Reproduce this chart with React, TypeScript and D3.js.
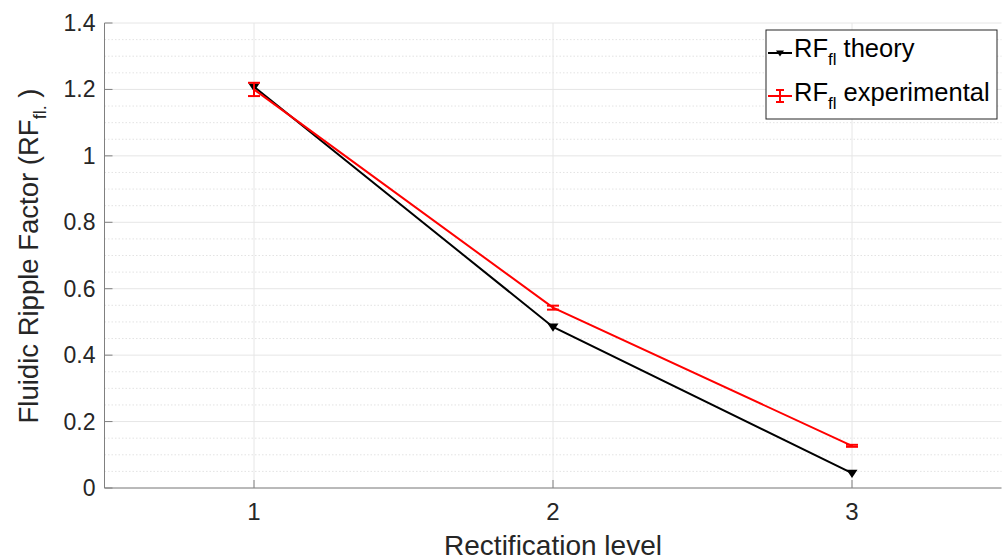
import React from "react";
import * as d3 from "d3";

const levels = [1, 2, 3];
const theory = [1.208, 0.485, 0.045];
const experimental = [1.2, 0.543, 0.127];
const expError = [0.02, 0.006, 0.003];
const yTicks = [0, 0.2, 0.4, 0.6, 0.8, 1, 1.2, 1.4];
const yTickLabels = ["0", "0.2", "0.4", "0.6", "0.8", "1", "1.2", "1.4"];
const xTicks = [1, 2, 3];

const W = 1005;
const H = 558;
const M = { left: 104.5, right: 1001.5, top: 23, bottom: 488 };
const FONT = "'Liberation Sans', Arial, Helvetica, sans-serif";
const TXT = "#262626";

export default function App() {
  const x = d3.scaleLinear().domain([0.5, 3.5]).range([M.left, M.right]);
  const y = d3.scaleLinear().domain([0, 1.4]).range([M.bottom, M.top]);
  const minor = d3.range(0, 1.4001, 0.05).filter((v) => Math.abs(v / 0.2 - Math.round(v / 0.2)) > 1e-6);
  const line = d3
    .line<number>()
    .x((_, i) => x(levels[i]))
    .y((d) => y(d));

  const tri = (cx: number, cy: number, s = 5) =>
    `M${cx - s},${cy - s * 0.6}L${cx + s},${cy - s * 0.6}L${cx},${cy + s * 0.9}Z`;

  return (
    <svg width={W} height={H} style={{ display: "block", position: "absolute", left: 0, top: 0, background: "#fff" }}>
      {/* minor grid */}
      {minor.map((v, i) => (
        <line key={"mn" + i} x1={M.left} x2={M.right} y1={y(v)} y2={y(v)} stroke="#dcdcdc" strokeWidth={0.8} strokeDasharray="1.5,2" />
      ))}
      {/* major grid */}
      {yTicks.map((v, i) => (
        <line key={"gy" + i} x1={M.left} x2={M.right} y1={y(v)} y2={y(v)} stroke="#e6e6e6" strokeWidth={1} />
      ))}
      {xTicks.map((v, i) => (
        <line key={"gx" + i} x1={x(v)} x2={x(v)} y1={M.top} y2={M.bottom} stroke="#e6e6e6" strokeWidth={1} />
      ))}
      {/* axes */}
      <line x1={M.left} x2={M.left} y1={M.top} y2={M.bottom} stroke="#808080" strokeWidth={1} />
      <line x1={M.left} x2={M.right} y1={M.bottom} y2={M.bottom} stroke="#808080" strokeWidth={1} />
      {yTicks.map((v, i) => (
        <g key={"ty" + i}>
          <line x1={M.left} x2={M.left + 8} y1={y(v)} y2={y(v)} stroke="#808080" />
          <text x={M.left - 9} y={y(v) + 8} textAnchor="end" fontFamily={FONT} fontSize={23} fill={TXT}>
            {yTickLabels[i]}
          </text>
        </g>
      ))}
      {xTicks.map((v, i) => (
        <g key={"tx" + i}>
          <line x1={x(v)} x2={x(v)} y1={M.bottom} y2={M.bottom - 8} stroke="#808080" />
          <text x={x(v)} y={520} textAnchor="middle" fontFamily={FONT} fontSize={24} fill={TXT}>
            {String(v)}
          </text>
        </g>
      ))}
      <text x={(M.left + M.right) / 2} y={555} textAnchor="middle" fontFamily={FONT} fontSize={28} fill={TXT}>
        Rectification level
      </text>
      <text transform={`translate(38,256) rotate(-90)`} textAnchor="middle" fontFamily={FONT} fontSize={27.5} fill={TXT}>
        Fluidic Ripple Factor (RF
        <tspan fontSize={18} dy={8}>fl.</tspan>
        <tspan dy={-8}> )</tspan>
      </text>
      {/* theory */}
      <path d={line(theory) || ""} fill="none" stroke="#000" strokeWidth={2} />
      {theory.map((v, i) => (
        <path key={"tm" + i} d={tri(x(levels[i]), y(v), 5.5)} fill="#000" />
      ))}
      {/* experimental */}
      <path d={line(experimental) || ""} fill="none" stroke="#ff0000" strokeWidth={2} />
      {experimental.map((v, i) => (
        <g key={"eb" + i} stroke="#ff0000" strokeWidth={2}>
          <line x1={x(levels[i])} x2={x(levels[i])} y1={y(v - expError[i])} y2={y(v + expError[i])} />
          <line x1={x(levels[i]) - 6} x2={x(levels[i]) + 6} y1={y(v - expError[i])} y2={y(v - expError[i])} />
          <line x1={x(levels[i]) - 6} x2={x(levels[i]) + 6} y1={y(v + expError[i])} y2={y(v + expError[i])} />
        </g>
      ))}
      {/* legend */}
      <g>
        <rect x={766} y={30} width={231} height={89} fill="#fff" stroke="#262626" strokeWidth={1} />
        <line x1={768} x2={792} y1={53} y2={53} stroke="#000" strokeWidth={2} />
        <path d={tri(780, 53, 4)} fill="#000" />
        <text x={794} y={57} fontFamily={FONT} fontSize={25.5} fill="#000">
          RF<tspan fontSize={17} dy={8}>fl</tspan>
          <tspan dy={-8}> theory</tspan>
        </text>
        <g stroke="#ff0000" strokeWidth={2}>
          <line x1={768} x2={792} y1={96} y2={96} />
          <line x1={780} x2={780} y1={90} y2={102} />
          <line x1={776} x2={784} y1={90} y2={90} />
          <line x1={776} x2={784} y1={102} y2={102} />
        </g>
        <text x={794} y={101} fontFamily={FONT} fontSize={25.5} fill="#000">
          RF<tspan fontSize={17} dy={8}>fl</tspan>
          <tspan dy={-8}> experimental</tspan>
        </text>
      </g>
    </svg>
  );
}
